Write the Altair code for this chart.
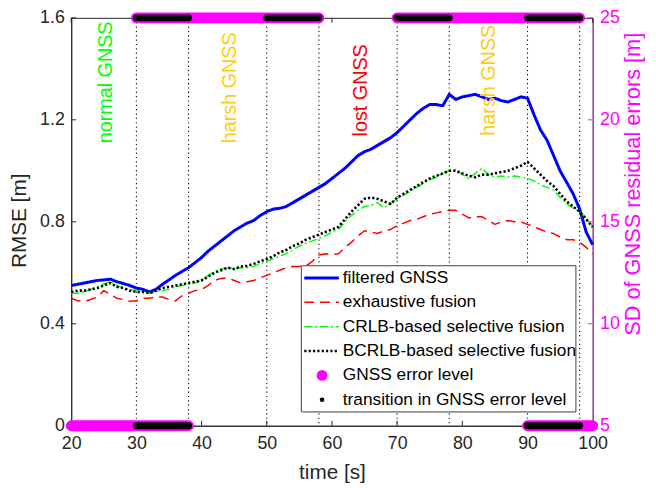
import altair as alt
import pandas as pd

# ---------------- data ----------------
time = list(range(20, 101))

filtered_gnss = [0.55, 0.555, 0.56, 0.565, 0.57, 0.572, 0.575, 0.565, 0.558, 0.55,
                 0.54, 0.535, 0.525, 0.535, 0.555, 0.572, 0.59, 0.605, 0.62, 0.64,
                 0.66, 0.685, 0.705, 0.725, 0.745, 0.765, 0.78, 0.795, 0.805, 0.825,
                 0.84, 0.85, 0.853, 0.86, 0.875, 0.89, 0.905, 0.92, 0.935, 0.95,
                 0.97, 0.99, 1.01, 1.035, 1.06, 1.075, 1.085, 1.1, 1.115, 1.13,
                 1.15, 1.175, 1.2, 1.225, 1.245, 1.26, 1.26, 1.255, 1.3, 1.28,
                 1.29, 1.295, 1.3, 1.29, 1.28, 1.285, 1.275, 1.27, 1.28, 1.29,
                 1.285, 1.22, 1.16, 1.12, 1.06, 1.0, 0.955, 0.91, 0.85, 0.76,
                 0.71]

exhaustive_fusion = [0.50, 0.49, 0.488, 0.495, 0.505, 0.53, 0.515, 0.50, 0.495, 0.488,
                     0.49, 0.50, 0.50, 0.505, 0.505, 0.495, 0.49, 0.51, 0.52, 0.53,
                     0.535, 0.55, 0.57, 0.578, 0.58, 0.57, 0.56, 0.565, 0.57, 0.58,
                     0.59, 0.60, 0.61, 0.62, 0.625, 0.625, 0.627, 0.645, 0.67, 0.675,
                     0.672, 0.675, 0.70, 0.72, 0.745, 0.765, 0.76, 0.754, 0.765, 0.77,
                     0.785, 0.795, 0.805, 0.81, 0.82, 0.83, 0.835, 0.84, 0.845, 0.845,
                     0.83, 0.815, 0.82, 0.82, 0.805, 0.79, 0.80, 0.805, 0.80, 0.80,
                     0.79, 0.78, 0.77, 0.76, 0.754, 0.74, 0.73, 0.73, 0.72, 0.70,
                     0.675]

crlb_fusion = [0.52, 0.52, 0.525, 0.535, 0.545, 0.555, 0.565, 0.55, 0.54, 0.535,
               0.53, 0.525, 0.52, 0.525, 0.53, 0.535, 0.545, 0.55, 0.555, 0.56,
               0.57, 0.59, 0.605, 0.615, 0.62, 0.615, 0.62, 0.62, 0.625, 0.635,
               0.645, 0.655, 0.665, 0.675, 0.69, 0.705, 0.715, 0.725, 0.735, 0.745,
               0.76, 0.77, 0.80, 0.825, 0.845, 0.86, 0.865, 0.875, 0.855, 0.87,
               0.89, 0.905, 0.92, 0.935, 0.95, 0.965, 0.975, 0.99, 1.0, 1.005,
               0.985, 0.97, 0.99, 1.01, 0.985, 0.975, 0.98, 0.975, 0.98, 0.975,
               0.97, 0.96, 0.945, 0.935, 0.925, 0.895, 0.87, 0.855, 0.84, 0.815,
               0.78]

bcrlb_fusion = [0.525, 0.53, 0.53, 0.535, 0.54, 0.55, 0.56, 0.545, 0.54, 0.53,
                0.525, 0.525, 0.52, 0.53, 0.54, 0.545, 0.55, 0.555, 0.56, 0.565,
                0.57, 0.585, 0.60, 0.61, 0.62, 0.615, 0.625, 0.627, 0.635, 0.645,
                0.654, 0.665, 0.68, 0.69, 0.705, 0.715, 0.73, 0.74, 0.75, 0.76,
                0.77, 0.78, 0.81, 0.84, 0.865, 0.89, 0.895, 0.89, 0.88, 0.87,
                0.895, 0.91, 0.925, 0.94, 0.955, 0.97, 0.98, 0.99, 1.0, 1.0,
                0.99, 0.98, 0.975, 0.985, 0.985, 0.99, 0.995, 1.0, 1.01, 1.02,
                1.035, 1.01, 0.985, 0.96, 0.94, 0.91, 0.88, 0.86, 0.84, 0.81,
                0.78]

series_names = ["filtered GNSS", "exhaustive fusion",
                "CRLB-based selective fusion", "BCRLB-based selective fusion"]
series_values = [filtered_gnss, exhaustive_fusion, crlb_fusion, bcrlb_fusion]

transition_times = [30, 38, 50, 58, 70, 78, 90, 98]

# GNSS error level (SD of GNSS residual errors, right axis)
level_start = [20, 30, 70, 90]
level_end = [38, 58, 98, 100]
level_value = [5, 25, 25, 5]

trans_start = [30, 30, 50, 70, 90, 90]
trans_end = [38, 38, 58, 78, 98, 98]
trans_value = [5, 25, 25, 25, 25, 5]

annot_text = ["normal GNSS", "harsh GNSS", "lost GNSS", "harsh GNSS"]
annot_time = [25.3, 44.4, 64.4, 84.1]
annot_rmse = [1.108, 1.108, 1.135, 1.138]

x_ticks = [20, 30, 40, 50, 60, 70, 80, 90, 100]
rmse_ticks = [0, 0.4, 0.8, 1.2, 1.6]
sd_ticks = [5, 10, 15, 20, 25]

legend_labels = series_names + ["GNSS error level", "transition in GNSS error level"]

# ---------------- styles ----------------
TOP = 15                      # absolute y of plot top
W, H = 528, 428 - TOP
FONT = "Liberation Sans"
AX = "#262626"
MAG = "#ff00ff"
series_colors = ["#0000ff", "#ff0000", "#00ff00", "#000000"]
series_dash = [[1, 0], [10, 6], [8, 3, 2, 3], [2.2, 2.2]]
series_width = [3, 1.5, 1.5, 2.6]
annot_colors = ["#00ff00", "#ffcc11", "#ff0000", "#ffcc11"]

x_scale = alt.Scale(domain=[20, 100], nice=False, zero=False)
x_axis = alt.Axis(values=x_ticks, title="time [s]", ticks=False, tickSize=0,
                  labelPadding=9, labelFlush=False, grid=False,
                  titleY=47, titleBaseline="middle")
y_scale = alt.Scale(domain=[0, 1.6], nice=False, zero=False)
y_axis = alt.Axis(values=rmse_ticks, title="RMSE [m]", ticks=False, tickSize=0,
                  labelPadding=7, labelFlush=False, format="~g", grid=False,
                  orient="left", titleX=-52, titleY=220 - TOP, titleAngle=270,
                  titleAlign="center", titleBaseline="middle")
sd_scale = alt.Scale(domain=[5, 25], nice=False, zero=False)
sd_axis = alt.Axis(values=sd_ticks, title="SD of GNSS residual errors [m]",
                   orient="right", ticks=False, tickSize=0, labelPadding=7,
                   labelFlush=False, grid=False, domainColor="#cc33cc",
                   labelColor=MAG, titleColor=MAG, titleAngle=270, titleX=40,
                   titleY=183 - TOP, titleAlign="center", titleBaseline="middle",
                   titleFontSize=22)

X = alt.X("time:Q", scale=x_scale, axis=x_axis)
Y = alt.Y("rmse:Q", scale=y_scale, axis=y_axis)

# ---------------- left (RMSE) group ----------------
left_layers = []

vdf = pd.DataFrame({"time": transition_times})
left_layers.append(
    alt.Chart(vdf).mark_rule(color="#000000", strokeWidth=1.1, strokeDash=[1.2, 3.2])
    .encode(x=X, y=alt.value(0), y2=alt.value(H))
)

for name, vals, col, dash, sw in zip(series_names, series_values, series_colors,
                                     series_dash, series_width):
    df = pd.DataFrame({"time": time, "rmse": vals})
    left_layers.append(
        alt.Chart(df).mark_line(color=col, strokeDash=dash, strokeWidth=sw,
                                strokeJoin="round")
        .encode(x=X, y=Y)
    )

adf = pd.DataFrame({"time": annot_time, "rmse": annot_rmse, "label": annot_text,
                    "col": annot_colors})
left_layers.append(
    alt.Chart(adf).mark_text(angle=270, align="left", baseline="middle",
                             font=FONT, fontSize=20)
    .encode(x=X, y=Y, text="label:N", color=alt.Color("col:N", scale=None))
)

# inward ticks: bottom, top, left
xt = pd.DataFrame({"time": x_ticks})
left_layers.append(alt.Chart(xt).mark_rule(color=AX, strokeWidth=1)
                   .encode(x=X, y=alt.value(H), y2=alt.value(H - 5)))
left_layers.append(alt.Chart(xt).mark_rule(color=AX, strokeWidth=1)
                   .encode(x=X, y=alt.value(0), y2=alt.value(5)))
yt = pd.DataFrame({"rmse": rmse_ticks})
left_layers.append(alt.Chart(yt).mark_rule(color=AX, strokeWidth=1)
                   .encode(y=Y, x=alt.value(0), x2=alt.value(5)))

# legend (manual), absolute box 305..583 x 266..414
LX0, LX1, LY0, LY1 = 305 - 72, 583 - 72, 266 - TOP, 414 - TOP
row_h = (LY1 - LY0) / 6.0
box_df = pd.DataFrame({"k": [0]})
left_layers.append(
    alt.Chart(box_df).mark_rect(fill="white", stroke="#404040", strokeWidth=1)
    .encode(x=alt.value(LX0), x2=alt.value(LX1), y=alt.value(LY0), y2=alt.value(LY1))
)
for i, lab in enumerate(legend_labels):
    py = LY0 + row_h * (i + 0.5)
    ldf = pd.DataFrame({"label": [lab]})
    left_layers.append(
        alt.Chart(ldf).mark_text(align="left", baseline="middle", font=FONT,
                                 fontSize=17.5, color="#000000")
        .encode(x=alt.value(LX0 + 42), y=alt.value(py), text="label:N")
    )
    if i < 4:
        left_layers.append(
            alt.Chart(ldf).mark_rule(color=series_colors[i], strokeDash=series_dash[i],
                                     strokeWidth=series_width[i])
            .encode(x=alt.value(LX0 + 3), x2=alt.value(LX0 + 38), y=alt.value(py))
        )
    elif i == 4:
        left_layers.append(
            alt.Chart(ldf).mark_circle(color=MAG, opacity=1, size=120)
            .encode(x=alt.value(LX0 + 21), y=alt.value(py))
        )
    else:
        left_layers.append(
            alt.Chart(ldf).mark_circle(color="#000000", opacity=1, size=22)
            .encode(x=alt.value(LX0 + 21), y=alt.value(py))
        )

left = alt.layer(*left_layers)

# ---------------- right (SD) group ----------------
SDY = alt.Y("level:Q", scale=sd_scale, axis=sd_axis)
seg_df = pd.DataFrame({"time": level_start, "end": level_end, "level": level_value})
tr_df = pd.DataFrame({"time": trans_start, "end": trans_end, "level": trans_value})
sdt = pd.DataFrame({"level": sd_ticks})

right = alt.layer(
    alt.Chart(seg_df).mark_rule(color=MAG, strokeWidth=11, strokeCap="round")
    .encode(x=X, x2="end:Q", y=SDY),
    alt.Chart(tr_df).mark_rule(color="#000000", strokeWidth=7, strokeCap="round")
    .encode(x=X, x2="end:Q", y=SDY),
    alt.Chart(sdt).mark_rule(color="#cc33cc", strokeWidth=1)
    .encode(y=SDY, x=alt.value(W - 5), x2=alt.value(W)),
)

chart = (
    alt.layer(left, right)
    .resolve_scale(y="independent")
    .properties(width=W, height=H,
                autosize=alt.AutoSizeParams(type="none"),
                padding={"left": 64, "top": TOP - 8, "right": 56, "bottom": 56})
    .configure_view(stroke=AX, strokeWidth=1)
    .configure_axis(labelFont=FONT, titleFont=FONT, labelFontSize=18,
                    titleFontSize=21, labelColor=AX, titleColor=AX,
                    domainColor=AX, titleFontWeight="normal")
)

chart.save("out.html", embed_options={"renderer": "svg", "actions": False})
